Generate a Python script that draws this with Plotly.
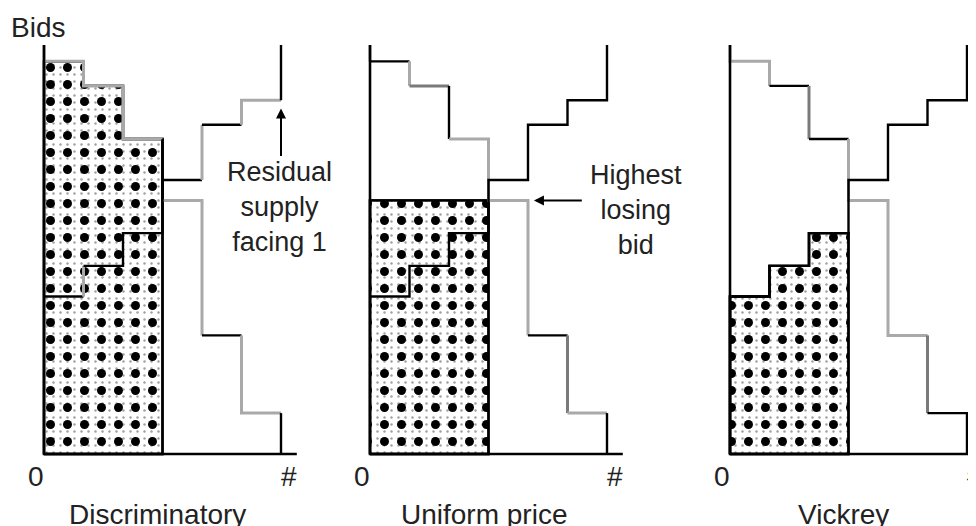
import plotly.graph_objects as go

# ---------------- data ----------------
x_units = [0, 1, 2, 3, 4, 5, 6]                 # quantity steps
bids = [9.6, 9.0, 7.7, 6.2, 2.9, 1.0]           # demand (bids) per unit
residual_supply = [3.85, 4.6, 5.4, 6.7, 8.05, 8.65]  # residual supply facing bidder 1
units_won = 3
axis_top = 10
axis_right = 6.4
panel_titles = ["Discriminatory", "Uniform price", "Vickrey"]
label_zero = "0"
label_q = "#"
label_bids = "Bids"
note_residual = "Residual<br>supply<br>facing 1"
note_losing = "Highest<br>losing<br>bid"

K, G, D = "#000000", "#a9a9a9", "#7a7a7a"
styles = {
    "Discriminatory": dict(dem_v=[G, G, G, K, G, G, K], dem_h=[G, G, G, G, K, G],
                           sup_v=[G, G, K, K, G, G, K], sup_h=[K, K, K, K, K, G]),
    "Uniform price": dict(dem_v=[G, G, K, G, G, D, K], dem_h=[K, D, G, G, K, G],
                          sup_v=[None, K, K, K, K, K, K], sup_h=[K, K, K, K, K, K]),
    "Vickrey": dict(dem_v=[G, G, D, G, G, D, K], dem_h=[G, K, K, G, G, K],
                    sup_v=[K, K, K, K, K, K, K], sup_h=[K, K, K, K, K, K]),
}

# page body has an 8px margin: the figure is sized to fit the window exactly
OFF = 8
W, H = 976 - OFF, 526 - OFF
px_unit_x, px_unit_y = 39.5, 40.9
y0_px = 454 - OFF
panel_px = [(0, 325 - OFF, 44 - OFF), (325 - OFF, 655 - OFF, 370 - OFF), (655 - OFF, W, 730 - OFF)]

def step_segments(levels, start, end, vcols, hcols):
    segs = []
    segs.append(((x_units[0], start), (x_units[0], levels[0]), vcols[0]))
    for i, L in enumerate(levels):
        segs.append(((x_units[i], L), (x_units[i + 1], L), hcols[i]))
        nxt = levels[i + 1] if i + 1 < len(levels) else end
        segs.append(((x_units[i + 1], L), (x_units[i + 1], nxt), vcols[i + 1]))
    return segs

def add_segments(fig, segs, xa, ya):
    runs = []
    for p0, p1, c in segs:
        if c is None:
            runs.append(None)
            continue
        if runs and runs[-1] is not None and runs[-1][0] == c:
            runs[-1][1].append(p1)
        else:
            runs.append([c, [p0, p1]])
    for r in runs:
        if r is None:
            continue
        c, pts = r
        fig.add_trace(go.Scatter(
            x=[p[0] for p in pts], y=[p[1] for p in pts], mode="lines",
            line=dict(color=c, width=2.4 if c == K else 3),
            xaxis=xa, yaxis=ya, hoverinfo="skip", showlegend=False))

fig = go.Figure()
layout_axes = {}
for k, title in enumerate(panel_titles):
    n = "" if k == 0 else str(k + 1)
    xa, ya = "x" + n, "y" + n
    left, right, x0 = panel_px[k]
    layout_axes["xaxis" + n] = dict(domain=[left / W, right / W],
                                    range=[(left - x0) / px_unit_x, (right - x0) / px_unit_x],
                                    visible=False, fixedrange=True, anchor=ya)
    layout_axes["yaxis" + n] = dict(domain=[0, 1],
                                    range=[-(H - y0_px) / px_unit_y, y0_px / px_unit_y],
                                    visible=False, fixedrange=True, anchor=xa)

    if title == "Discriminatory":
        levels = bids[:units_won]
    elif title == "Uniform price":
        levels = [bids[units_won]] * units_won
    else:
        levels = residual_supply[:units_won]
    sx, sy = [x_units[0]], [0]
    for i, L in enumerate(levels):
        sx += [x_units[i], x_units[i + 1]]
        sy += [L, L]
    sx += [x_units[units_won], x_units[0]]
    sy += [0, 0]
    fig.add_trace(go.Scatter(x=sx, y=sy, mode="lines", fill="toself",
                             line=dict(color=K, width=2.4), fillcolor="rgba(0,0,0,0)",
                             fillpattern=dict(shape=".", fgcolor="#a0a0a0", bgcolor="white",
                                              size=7, solidity=0.1, fgopacity=1),
                             xaxis=xa, yaxis=ya, hoverinfo="skip", showlegend=False))
    fig.add_trace(go.Scatter(x=sx, y=sy, mode="lines", fill="toself",
                             line=dict(color=K, width=2.4), fillcolor="rgba(0,0,0,0)",
                             fillpattern=dict(shape=".", fgcolor="#000000",
                                              bgcolor="rgba(0,0,0,0)", size=17, solidity=0.22,
                                              fgopacity=1),
                             xaxis=xa, yaxis=ya, hoverinfo="skip", showlegend=False))

    st = styles[title]
    add_segments(fig, step_segments(bids, axis_top, 0, st["dem_v"], st["dem_h"]), xa, ya)
    add_segments(fig, step_segments(residual_supply, 0, axis_top, st["sup_v"], st["sup_h"]), xa, ya)

    fig.add_trace(go.Scatter(x=[x_units[0], x_units[0], axis_right], y=[axis_top, 0, 0],
                             mode="lines", line=dict(color=K, width=2.6),
                             xaxis=xa, yaxis=ya, hoverinfo="skip", showlegend=False))

annotations = []
font = dict(family="Liberation Sans, Arial, sans-serif", size=28, color="#222222")
for k, title in enumerate(panel_titles):
    n = "" if k == 0 else str(k + 1)
    xa, ya = "x" + n, "y" + n
    annotations.append(dict(x=-0.2, y=-0.56, xref=xa, yref=ya, text=label_zero,
                            showarrow=False, font=font))
    annotations.append(dict(x=6.2, y=-0.56, xref=xa, yref=ya, text=label_q,
                            showarrow=False, font=font))
    annotations.append(dict(x=2.88, y=-1.47, xref=xa, yref=ya, text=title,
                            showarrow=False, font=font))

annotations.append(dict(x=(37.5 - OFF) / W, y=1 - (27 - OFF) / H, xref="paper", yref="paper",
                        xanchor="center", yanchor="middle",
                        text=label_bids, showarrow=False, font=font))
font2 = dict(font, size=27)
annotations.append(dict(x=5.97, y=6.04, xref="x", yref="y", text=note_residual,
                        showarrow=False, font=font2, align="center"))
annotations.append(dict(x=x_units[6], y=8.45, ax=x_units[6], ay=7.25, xref="x", yref="y",
                        axref="x", ayref="y", text="", showarrow=True, arrowhead=2,
                        arrowwidth=2, arrowsize=1, arrowcolor="black"))
annotations.append(dict(x=6.73, y=5.97, xref="x2", yref="y2", text=note_losing,
                        showarrow=False, font=font2, align="center"))
annotations.append(dict(x=4.15, y=bids[units_won], ax=5.4, ay=bids[units_won],
                        xref="x2", yref="y2", axref="x2", ayref="y2", text="",
                        showarrow=True, arrowhead=2, arrowwidth=2, arrowsize=1,
                        arrowcolor="black"))

fig.update_layout(width=W, height=H, margin=dict(l=0, r=0, t=0, b=0),
                  paper_bgcolor="white", plot_bgcolor="white", showlegend=False,
                  annotations=annotations, **layout_axes)
fig.write_html("out.html")
